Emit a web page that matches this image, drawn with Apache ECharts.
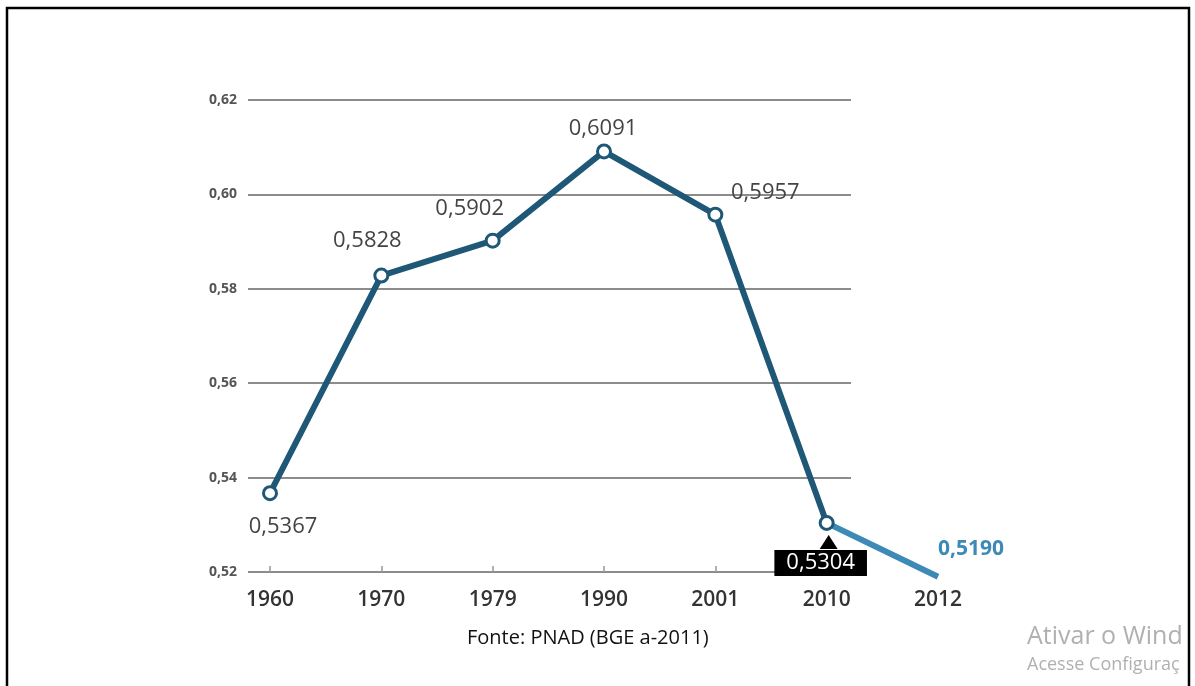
<!DOCTYPE html>
<html><head><meta charset="utf-8">
<script src="https://cdn.jsdelivr.net/npm/echarts@6/dist/echarts.min.js"></script>
<style>html,body{margin:0;padding:0;background:#fff}#c{width:1195px;height:686px}</style>
</head><body><div id="c"></div>
<script>
const years = ['1960','1970','1979','1990','2001','2010','2012'];
const gini = [0.5367, 0.5828, 0.5902, 0.6091, 0.5957, 0.5304, 0.5190];
const yTicks = [0.52, 0.54, 0.56, 0.58, 0.60, 0.62];
const sourceText = 'Fonte: PNAD (BGE a-2011)';
const watermark1 = 'Ativar o Wind';
const watermark2 = 'Acesse Configuraç';

const dark = '#1f5877', light = '#3c8ab5';
const fmt = v => v.toFixed(4).replace('.', ',');
const labelOffsets = [[13,34],[-14,-35],[-23,-32],[-1,-23],[50,-22],[-6,40],[33,-28]];

const mainData = gini.map((v,i) => {
  if (i === 6) return '-';
  const item = {value: v, label: {show: true, position: 'inside', offset: labelOffsets[i]}};
  if (i === 5) {
    item.label.backgroundColor = '#000'; item.label.color = '#fff';
    item.label.padding = [3, 12, 1, 12];
  }
  return item;
});
const tailData = gini.map((v,i) => i >= 5 ? (i === 6 ? {value: v, label: {show: true, position: 'inside', offset: labelOffsets[6], color: light, fontWeight: 'bold', fontSize: 21}} : v) : '-');

const chart = echarts.init(document.getElementById('c'), null, {renderer: 'canvas'});
chart.setOption({
  animation: false,
  backgroundColor: '#fff',
  textStyle: {fontFamily: 'Open Sans'},
  grid: [
    {left: 248, right: 1195 - 851, top: 100, bottom: 114},
    {left: 270, right: 1195 - 938, top: 100, bottom: 114}
  ],
  xAxis: [
    {gridIndex: 0, type: 'value', show: false, min: 0, max: 1},
    {gridIndex: 1, type: 'category', data: years, boundaryGap: false,
     axisLine: {show: false},
     axisTick: {show: true, inside: true, length: 6, lineStyle: {color: '#999', width: 1.5}, interval: (i) => i < 6},
     axisLabel: {color: '#333', fontSize: 21, fontWeight: 600, margin: 18, fontFamily: 'Open Sans', interval: 0},
     splitLine: {show: false}}
  ],
  yAxis: [
    {gridIndex: 0, type: 'value', min: 0.52, max: 0.62, interval: 0.02,
     axisLine: {show: false}, axisTick: {show: false},
     axisLabel: {color: '#555', fontSize: 14, fontWeight: 'bold', margin: 11,
       formatter: v => v.toFixed(2).replace('.', ',')},
     splitLine: {lineStyle: {color: '#8c8c8c', width: 2}}},
    {gridIndex: 1, type: 'value', min: 0.52, max: 0.62, interval: 0.02, show: false, splitLine: {show: false}}
  ],
  series: [
    {type: 'line', xAxisIndex: 1, yAxisIndex: 1, data: tailData, clip: false,
     symbol: 'circle', symbolSize: 1, showAllSymbol: true,
     itemStyle: {color: 'rgba(0,0,0,0)', borderWidth: 0},
     lineStyle: {color: light, width: 6}, z: 2, silent: true,
     label: {show: false, formatter: p => fmt(p.value), fontFamily: 'Open Sans'}},
    {type: 'line', xAxisIndex: 1, yAxisIndex: 1, data: mainData, clip: false,
     symbol: 'circle', symbolSize: 13, showAllSymbol: true,
     itemStyle: {color: '#fff', borderColor: dark, borderWidth: 3},
     lineStyle: {color: dark, width: 6}, z: 3, silent: true,
     label: {show: true, formatter: p => fmt(p.value), color: '#444', fontSize: 22, fontFamily: 'Open Sans'},
     markPoint: {silent: true, symbol: 'triangle', symbolSize: [18, 14], symbolOffset: [2, 19],
       itemStyle: {color: '#000'}, label: {show: false},
       data: [{coord: [5, gini[5]]}]}}
  ],
  graphic: [
    {type: 'rect', z: 100, shape: {x: 7, y: 8, width: 1182, height: 700}, style: {fill: 'none', stroke: '#000', lineWidth: 2.5}},
    {type: 'text', left: 467, top: 628, style: {text: sourceText, font: '20px "Open Sans"', fill: '#111'}},
    {type: 'text', left: 1027, top: 624, style: {text: watermark1, font: '25px "Open Sans"', fill: '#b0b0b0'}},
    {type: 'text', left: 1027, top: 656, style: {text: watermark2, font: '18px "Open Sans"', fill: '#b0b0b0'}}
  ]
});
</script></body></html>
